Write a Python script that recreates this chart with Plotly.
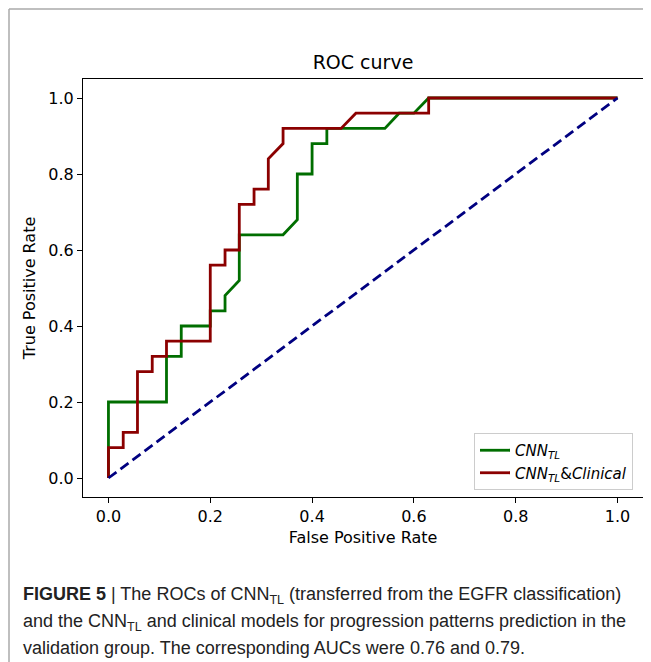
import plotly.graph_objects as go

# ---- data ----
fpr_cnn = [0.0, 0.0, 0.114, 0.114, 0.143, 0.143, 0.200, 0.200, 0.229, 0.229, 0.257,
           0.257, 0.343, 0.371, 0.371, 0.400, 0.400, 0.429, 0.429, 0.543, 0.571,
           0.600, 0.629, 1.0]
tpr_cnn = [0.0, 0.20, 0.20, 0.32, 0.32, 0.40, 0.40, 0.44, 0.44, 0.48, 0.52,
           0.64, 0.64, 0.68, 0.80, 0.80, 0.88, 0.88, 0.92, 0.92, 0.96,
           0.96, 1.0, 1.0]

fpr_comb = [0.0, 0.0, 0.029, 0.029, 0.057, 0.057, 0.086, 0.086, 0.114, 0.114, 0.200,
            0.200, 0.229, 0.229, 0.257, 0.257, 0.286, 0.286, 0.314, 0.314, 0.343,
            0.343, 0.457, 0.486, 0.629, 0.629, 1.0]
tpr_comb = [0.0, 0.08, 0.08, 0.12, 0.12, 0.28, 0.28, 0.32, 0.32, 0.36, 0.36,
            0.56, 0.56, 0.60, 0.60, 0.72, 0.72, 0.76, 0.76, 0.84, 0.88,
            0.92, 0.92, 0.96, 0.96, 1.0, 1.0]

chance_x = [0.0, 1.0]
chance_y = [0.0, 1.0]

tick_vals = [0.0, 0.2, 0.4, 0.6, 0.8, 1.0]
tick_text = ["0.0", "0.2", "0.4", "0.6", "0.8", "1.0"]

series_names = ["<i>CNN<sub>TL</sub></i>", "<i>CNN<sub>TL</sub></i>&<i>Clinical</i>"]
title_text = "ROC curve"
x_title = "False Positive Rate"
y_title = "True Positive Rate"
caption_lines = [
    "<b>FIGURE 5</b> | The ROCs of CNN<sub>TL</sub> (transferred from the EGFR classification)",
    "and the CNN<sub>TL</sub> and clinical models for progression patterns prediction in the",
    "validation group. The corresponding AUCs were 0.76 and 0.79.",
]

# ---- layout geometry (page pixels; the page body adds an 8px offset) ----
OFF = 8
PAGE_W, PAGE_H = 651, 662
W, H = PAGE_W - OFF, PAGE_H - OFF
L, R, T, B = 83 - OFF, 643 - OFF, 79 - OFF, 497 - OFF
pw, ph = R - L, B - T


def px_x(p):
    return (p - OFF - L) / pw


def px_y(p):
    return (B - (p - OFF)) / ph


fig = go.Figure()
fig.add_trace(go.Scatter(x=fpr_cnn, y=tpr_cnn, mode="lines", name=series_names[0],
                         line=dict(color="#006e00", width=2.8)))
fig.add_trace(go.Scatter(x=fpr_comb, y=tpr_comb, mode="lines", name=series_names[1],
                         line=dict(color="#8B0000", width=2.8)))
fig.add_trace(go.Scatter(x=chance_x, y=chance_y, mode="lines", showlegend=False,
                         line=dict(color="#000080", width=2.8, dash="10px,5px")))

axis_common = dict(
    range=[-0.05, 1.05], tickvals=tick_vals, ticktext=tick_text,
    showgrid=False, zeroline=False, showline=True, linecolor="black", linewidth=1,
    mirror=True, ticks="outside", ticklen=5, tickcolor="black", tickwidth=1,
    tickfont=dict(family="DejaVu Sans", size=16, color="black"),
)

fig.update_layout(
    width=W, height=H,
    margin=dict(l=L, r=W - R, t=T, b=H - B),
    paper_bgcolor="white", plot_bgcolor="white",
    showlegend=True,
    title=dict(text=title_text, x=(L + R) / 2 / W, xanchor="center",
               y=1 - (62 - OFF) / H, yanchor="middle",
               font=dict(family="DejaVu Sans", size=19, color="black")),
    xaxis=dict(**axis_common, title=dict(text=x_title, standoff=6,
               font=dict(family="DejaVu Sans", size=16, color="black"))),
    yaxis=dict(**axis_common, title=dict(text=y_title, standoff=8,
               font=dict(family="DejaVu Sans", size=16, color="black"))),
    legend=dict(x=px_x(633), y=px_y(490), xanchor="right", yanchor="bottom",
                bgcolor="white", bordercolor="#cccccc", borderwidth=1,
                font=dict(family="DejaVu Sans", size=15, color="black"),
                itemwidth=30, tracegroupgap=0),
)

# outer light frame (top and left edges)
fig.add_shape(type="line", xref="paper", yref="paper",
              x0=px_x(9), x1=px_x(PAGE_W + 2), y0=px_y(OFF + 1), y1=px_y(OFF + 1),
              line=dict(color="#aaaaaa", width=1.5))
fig.add_shape(type="line", xref="paper", yref="paper",
              x0=px_x(9), x1=px_x(9), y0=px_y(OFF + 1), y1=px_y(PAGE_H + 2),
              line=dict(color="#aaaaaa", width=1.5))

# caption
for line, ypx in zip(caption_lines, [595, 622, 648]):
    fig.add_annotation(text=line, xref="paper", yref="paper",
                       x=px_x(21), y=px_y(ypx), xanchor="left", yanchor="middle",
                       showarrow=False, align="left",
                       font=dict(family="Liberation Sans", size=18, color="#222222"))

fig.write_html("out.html")
